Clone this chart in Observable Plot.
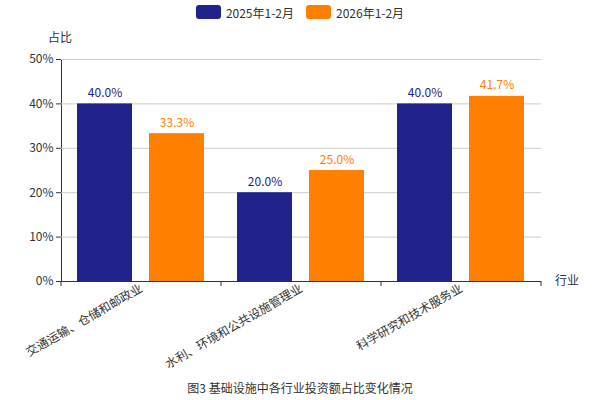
<!DOCTYPE html>
<html>
<head>
<meta charset="utf-8">
<script src="https://cdn.jsdelivr.net/npm/d3@7"></script>
<script src="https://cdn.jsdelivr.net/npm/@observablehq/plot@0.6"></script>
<style>
  body { margin: 0; background: #fff; font-family: "Noto Sans CJK SC", "Noto Sans", sans-serif; color: #333; }
  #wrap { width: 600px; }
  #legend { height: 27px; display: flex; justify-content: center; align-items: flex-start; font-size: 12px; padding-top: 0; box-sizing: border-box; }
  .item { display: flex; align-items: center; margin: 0 6px; height: 24px; }
  .sw { width: 25px; height: 14px; border-radius: 3px; margin-right: 5px; }
  #caption { height: 29px; line-height: 34px; text-align: center; font-size: 12px; color: #333; }
</style>
</head>
<body>
<div id="wrap">
  <div id="legend"></div>
  <div id="chart"></div>
  <div id="caption"></div>
</div>
<script>
const categories = ["交通运输、仓储和邮政业", "水利、环境和公共设施管理业", "科学研究和技术服务业"];
const series = ["2025年1-2月", "2026年1-2月"];
const values2025 = [40.0, 20.0, 40.0];
const values2026 = [33.3, 25.0, 41.7];
const colors = ["#22228c", "#ff8000"];
const yTicks = [0, 10, 20, 30, 40, 50];
const yLabel = "占比";
const xLabel = "行业";
const captionText = "图3 基础设施中各行业投资额占比变化情况";

const rows = [];
categories.forEach((c, i) => {
  rows.push({category: c, series: series[0], value: values2025[i]});
  rows.push({category: c, series: series[1], value: values2026[i]});
});

const font = '"Noto Sans CJK SC", "Noto Sans", sans-serif';

// legend
const legend = document.getElementById("legend");
series.forEach((s, i) => {
  const item = document.createElement("div");
  item.className = "item";
  const sw = document.createElement("div");
  sw.className = "sw";
  sw.style.background = colors[i];
  const t = document.createElement("span");
  t.textContent = s;
  item.appendChild(sw); item.appendChild(t);
  legend.appendChild(item);
});
document.getElementById("caption").textContent = captionText;

const plot = Plot.plot({
  width: 600,
  height: 344,
  marginTop: 32,
  marginBottom: 90,
  marginLeft: 60,
  marginRight: 58,
  style: {fontFamily: font, fontSize: "12px", color: "#333", background: "white", overflow: "visible"},
  fx: {domain: categories, padding: 0, label: null, axis: "bottom", tickRotate: -30, tickSize: 0, tickPadding: 6},
  x: {domain: series, paddingInner: 0.234, paddingOuter: 0.22, axis: null},
  y: {domain: [0, 50], ticks: yTicks, tickFormat: d => d + "%", label: null, line: true, tickSize: 5, tickPadding: 3},
  color: {domain: series, range: colors},
  marks: [
    Plot.gridY(yTicks, {stroke: "#cccccc", strokeOpacity: 1}),
    Plot.barY(rows, {fx: "category", x: "series", y: "value", fill: "series"}),
    Plot.text(rows, {fx: "category", x: "series", y: "value", text: d => d.value.toFixed(1) + "%", fill: "series", lineAnchor: "bottom", dy: -7, fontSize: 12}),
    Plot.ruleY([0], {stroke: "#333"})
  ]
});
document.getElementById("chart").appendChild(plot);

// boundary ticks on the x axis, axis name texts
const fx = plot.scale("fx");
const yS = plot.scale("y");
const svg = d3.select(plot);
const y0 = yS.apply(0);
const bounds = categories.map(c => fx.apply(c)).concat([fx.apply(categories[categories.length - 1]) + fx.bandwidth]);
svg.append("g").selectAll("line").data(bounds).join("line")
  .attr("x1", d => d).attr("x2", d => d)
  .attr("y1", y0).attr("y2", y0 + 5)
  .attr("stroke", "#333");
svg.append("text").text(yLabel)
  .attr("x", 60).attr("y", 11).attr("text-anchor", "middle").attr("dy", "0.35em")
  .attr("fill", "#333").style("font-size", "12px");
svg.append("text").text(xLabel)
  .attr("x", bounds[bounds.length - 1] + 14).attr("y", y0).attr("text-anchor", "start").attr("dy", "0.35em")
  .attr("fill", "#333").style("font-size", "12px");
</script>
</body>
</html>
